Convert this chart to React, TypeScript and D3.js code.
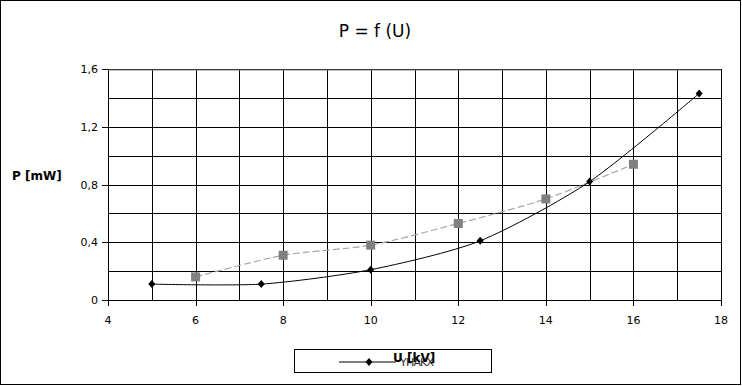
import React from "react";
import * as d3 from "d3";

const seriesA_U = [5, 7.5, 10, 12.5, 15, 17.5];
const seriesA_P = [0.11, 0.11, 0.21, 0.41, 0.82, 1.43];
const seriesB_U = [6, 8, 10, 12, 14, 16];
const seriesB_P = [0.16, 0.31, 0.38, 0.53, 0.7, 0.94];
const xTickLabels = [4, 6, 8, 10, 12, 14, 16, 18];
const yTickLabels = [0, 0.4, 0.8, 1.2, 1.6];
const xGrid = d3.range(4, 19, 1);
const yGrid = [0, 0.2, 0.4, 0.6, 0.8, 1.0, 1.2, 1.4, 1.6];

const W = 742, H = 386;
const L = 108, R = 721, T = 69, B = 300;

export default function App() {
  const x = d3.scaleLinear().domain([4, 18]).range([L, R]);
  const y = d3.scaleLinear().domain([0, 1.6]).range([B, T]);
  const line = d3
    .line<[number, number]>()
    .x((d) => x(d[0]))
    .y((d) => y(d[1]))
    .curve(d3.curveCardinal.tension(0.25));
  const a: [number, number][] = seriesA_U.map((u, i) => [u, seriesA_P[i]]);
  const b: [number, number][] = seriesB_U.map((u, i) => [u, seriesB_P[i]]);
  const font = "DejaVu Sans, sans-serif";
  return (
    <svg
      width={W}
      height={H}
      style={{ position: "absolute", left: 0, top: 0 }}
      fontFamily={font}
    >
      <rect x={0} y={0} width={W} height={H} fill="#fff" />
      <rect x={0.5} y={0.5} width={740} height={384} fill="none" stroke="#000" />
      <text x={375} y={37} textAnchor="middle" fontSize={17}>
        P = f (U)
      </text>
      {xGrid.map((v) => (
        <line key={"gx" + v} x1={Math.round(x(v)) + 0.5} x2={Math.round(x(v)) + 0.5} y1={T} y2={B} stroke="#000" />
      ))}
      {yGrid.map((v) => (
        <line key={"gy" + v} x1={L} x2={R} y1={Math.round(y(v)) + 0.5} y2={Math.round(y(v)) + 0.5} stroke="#000" />
      ))}
      <line x1={L} x2={R} y1={Math.round(y(1.6)) + 1} y2={Math.round(y(1.6)) + 1} stroke="#808080" strokeWidth={1} />
      {xTickLabels.map((v) => (
        <g key={"xt" + v}>
          <line x1={Math.round(x(v)) + 0.5} x2={Math.round(x(v)) + 0.5} y1={B} y2={B + 6} stroke="#000" />
          <text x={x(v)} y={B + 24} textAnchor="middle" fontSize={11}>
            {v}
          </text>
        </g>
      ))}
      {yTickLabels.map((v) => (
        <g key={"yt" + v}>
          <line x1={L - 6} x2={L} y1={Math.round(y(v)) + 0.5} y2={Math.round(y(v)) + 0.5} stroke="#000" />
          <text x={L - 10} y={y(v) + 4} textAnchor="end" fontSize={11}>
            {String(v).replace(".", ",")}
          </text>
        </g>
      ))}
      <text x={12} y={180} fontSize={12} fontWeight="bold">
        P [mW]
      </text>
      <path d={line(b) || ""} fill="none" stroke="#a6a6a6" strokeWidth={1.2} strokeDasharray="7,3" />
      <path d={line(a) || ""} fill="none" stroke="#000" strokeWidth={1} />
      {b.map((d, i) => (
        <rect key={"sb" + i} x={x(d[0]) - 4.5} y={y(d[1]) - 4.5} width={9} height={9} fill="#808080" />
      ))}
      {a.map((d, i) => (
        <path
          key={"sa" + i}
          d={`M${x(d[0])},${y(d[1]) - 4}L${x(d[0]) + 3.5},${y(d[1])}L${x(d[0])},${y(d[1]) + 4}L${x(d[0]) - 3.5},${y(d[1])}Z`}
          fill="#000"
        />
      ))}
      <rect x={294.5} y={349.5} width={197} height={23} fill="#fff" stroke="#000" />
      <line x1={339} x2={396} y1={362} y2={362} stroke="#000" />
      <path d="M369,358L372.5,362L369,366L365.5,362Z" fill="#000" />
      <text x={400} y={366} fontSize={11} fill="#000" opacity={0.85} letterSpacing={-0.8}>
        YHAKX
      </text>
      <text x={393} y={362} fontSize={12} fontWeight="bold" fill="#000">
        U [kV]
      </text>
    </svg>
  );
}
